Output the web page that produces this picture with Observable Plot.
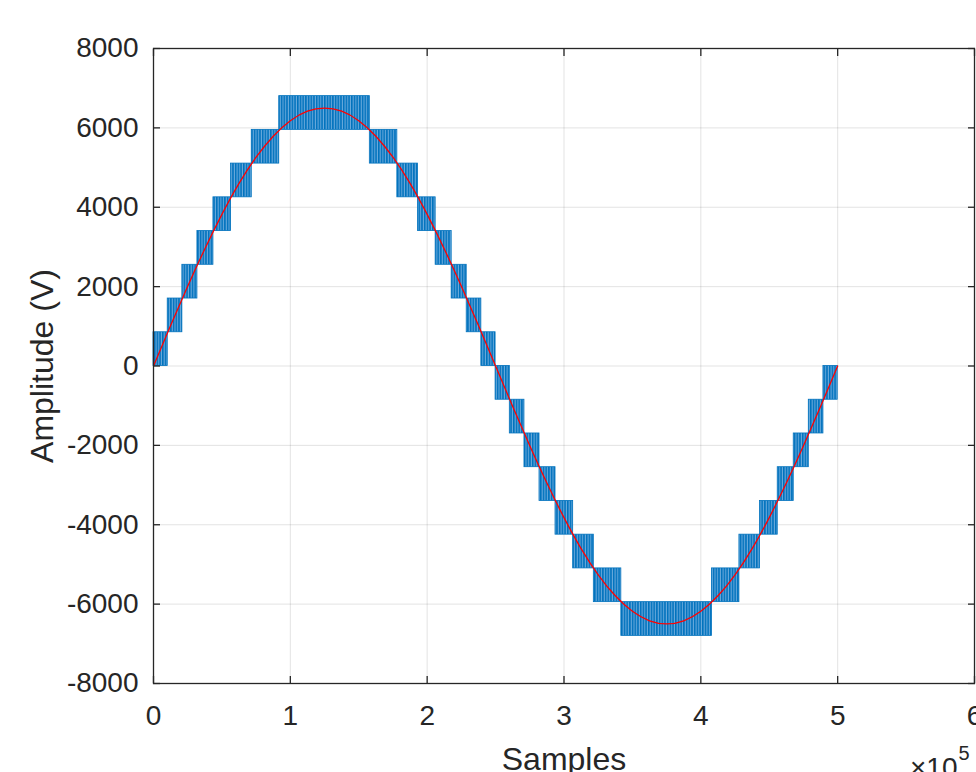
<!DOCTYPE html>
<html>
<head>
<meta charset="utf-8">
<script src="https://cdn.jsdelivr.net/npm/d3@7"></script>
<script src="https://cdn.jsdelivr.net/npm/@observablehq/plot@0.6"></script>
<style>
  html, body { margin: 0; padding: 0; background: #fff; overflow: hidden; }
  #chart { width: 976px; height: 772px; }
</style>
</head>
<body>
<svg width="0" height="0" style="position:absolute">
  <defs>
    <pattern id="pwm" patternUnits="userSpaceOnUse" width="2.7" height="4">
      <rect x="0" y="0" width="2.7" height="4" fill="#6aaadc"></rect>
      <rect x="0" y="0" width="1.6" height="4" fill="#0072BD"></rect>
    </pattern>
  </defs>
</svg>
<div id="chart"></div>
<script>
// PWM bands of the multilevel output: start/end sample, lower/upper level (V)
const bandStart = [0, 10400, 21100, 32100, 43800, 56700, 71800, 91900, 158100, 178200, 193300, 206200, 217900, 228900, 239600,
                   250000, 260400, 271100, 282100, 293800, 306700, 321800, 341900, 408100, 428200, 443300, 456200, 467900, 478900, 489600];
const bandEnd   = [10400, 21100, 32100, 43800, 56700, 71800, 91900, 158100, 178200, 193300, 206200, 217900, 228900, 239600, 250000,
                   260400, 271100, 282100, 293800, 306700, 321800, 341900, 408100, 428200, 443300, 456200, 467900, 478900, 489600, 500000];
const bandLow   = [0, 850, 1700, 2550, 3400, 4250, 5100, 5950, 5100, 4250, 3400, 2550, 1700, 850, 0,
                   -850, -1700, -2550, -3400, -4250, -5100, -5950, -6800, -5950, -5100, -4250, -3400, -2550, -1700, -850];
const bandHigh  = [850, 1700, 2550, 3400, 4250, 5100, 5950, 6800, 5950, 5100, 4250, 3400, 2550, 1700, 850,
                   0, -850, -1700, -2550, -3400, -4250, -5100, -5950, -5100, -4250, -3400, -2550, -1700, -850, 0];

// Red reference sine
const sineX = [0, 12500, 25000, 37500, 50000, 62500, 75000, 87500, 100000, 112500, 125000, 137500, 150000, 162500, 175000,
               187500, 200000, 212500, 225000, 237500, 250000, 262500, 275000, 287500, 300000, 312500, 325000, 337500, 350000,
               362500, 375000, 387500, 400000, 412500, 425000, 437500, 450000, 462500, 475000, 487500, 500000];
const sineV = [0, 1020, 2010, 2950, 3820, 4600, 5260, 5790, 6180, 6420, 6500, 6420, 6180, 5790, 5260,
               4600, 3820, 2950, 2010, 1020, 0, -1020, -2010, -2950, -3820, -4600, -5260, -5790, -6180,
               -6420, -6500, -6420, -6180, -5790, -5260, -4600, -3820, -2950, -2010, -1020, 0];

const xTicks = [0, 100000, 200000, 300000, 400000, 500000, 600000];
const yTicks = [-8000, -6000, -4000, -2000, 0, 2000, 4000, 6000, 8000];
const xLabel = "Samples";
const yLabel = "Amplitude (V)";
const expBase = "×10";
const expPower = "5";

const bands = bandStart.map((s, i) => ({start: s, end: bandEnd[i], lo: bandLow[i], hi: bandHigh[i]}));
const sine = sineX.map((x, i) => ({x, v: sineV[i]}));

const ink = "#262626";
const font = "'Liberation Sans', Arial, Helvetica, sans-serif";

const chart = Plot.plot({
  width: 976,
  height: 772,
  marginLeft: 153,
  marginRight: 2,
  marginTop: 48,
  marginBottom: 89,
  style: {fontFamily: font, fontSize: "28px", color: ink, background: "#fff"},
  x: {domain: [0, 600000], label: null},
  y: {domain: [-8000, 8000], label: null},
  marks: [
    Plot.gridX(xTicks, {stroke: ink, strokeOpacity: 0.13, strokeWidth: 1}),
    Plot.gridY(yTicks, {stroke: ink, strokeOpacity: 0.13, strokeWidth: 1}),
    Plot.rect(bands, {x1: "start", x2: "end", y1: "lo", y2: "hi", fill: "url(#pwm)", stroke: "#0072BD", strokeWidth: 0.8}),
    Plot.line(sine, {x: "x", y: "v", stroke: "#FF0000", strokeWidth: 1.3, curve: "natural"}),
    Plot.frame({stroke: ink, strokeWidth: 1.3}),
    Plot.axisX(xTicks, {anchor: "bottom", tickSize: -7, tickPadding: 29, tickFormat: d => String(d / 100000), label: null, stroke: ink, strokeWidth: 1.3}),
    Plot.axisX(xTicks, {anchor: "top", tickSize: -7, tickFormat: () => "", label: null, stroke: ink, strokeWidth: 1.3}),
    Plot.axisY(yTicks, {anchor: "left", tickSize: -7, tickPadding: 22, tickFormat: d => String(d), label: null, stroke: ink, strokeWidth: 1.3}),
    Plot.axisY(yTicks, {anchor: "right", tickSize: -7, tickFormat: () => "", label: null, stroke: ink, strokeWidth: 1.3}),
    Plot.text([xLabel], {text: d => d, frameAnchor: "bottom", dy: 76, textAnchor: "middle", lineAnchor: "middle", fontSize: 32, fill: ink}),
    Plot.text([yLabel], {text: d => d, frameAnchor: "left", dx: -111, rotate: -90, textAnchor: "middle", lineAnchor: "middle", fontSize: 32, fill: ink}),
    Plot.text([expBase], {text: d => d, frameAnchor: "bottom-right", dx: -17, dy: 85, textAnchor: "end", lineAnchor: "middle", fontSize: 28, fill: ink}),
    Plot.text([expPower], {text: d => d, frameAnchor: "bottom-right", dx: -16, dy: 70, textAnchor: "start", lineAnchor: "middle", fontSize: 20, fill: ink})
  ]
});
document.getElementById("chart").appendChild(chart);
</script>
</body>
</html>
